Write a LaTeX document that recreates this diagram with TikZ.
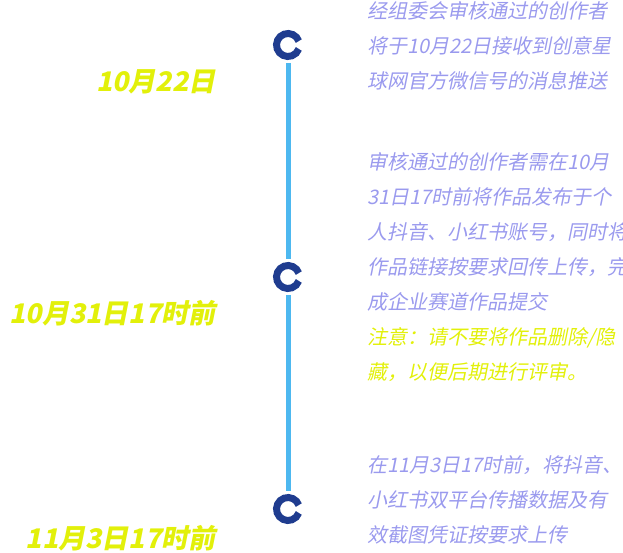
\documentclass[tikz,border=0pt]{standalone}
\usepackage{fontspec}
\newfontfamily\cjk{Noto Sans CJK SC}[FakeSlant=0.2]
\usetikzlibrary{positioning,calc}
\definecolor{ringblue}{HTML}{1F3C8F}
\definecolor{lineblue}{HTML}{4DB8F0}
\definecolor{datey}{HTML}{E2F00A}
\definecolor{desc}{HTML}{9A9AEE}
\tikzset{
  ring/.style={ringblue, line width=7pt},
  datetext/.style={anchor=east, text=datey, font=\cjk\bfseries\fontsize{27}{30}\selectfont, inner sep=0pt},
  desctext/.style={anchor=north west, text=desc, align=left, inner sep=0pt,
    font=\cjk\fontsize{20}{35}\selectfont},
}
\begin{document}
\begin{tikzpicture}[x=1pt,y=-1pt]
        \useasboundingbox (0,0) rectangle (623,553);
        % timeline
        \coordinate (i1) at (288,45);
        \coordinate (i2) at (288,277);
        \coordinate (i3) at (288,509);
        \draw[lineblue, line width=5pt] ($(i1)+(0,18)$) -- ($(i2)+(0,-18)$);
        \draw[lineblue, line width=5pt] ($(i2)+(0,18)$) -- ($(i3)+(0,-18)$);
        \foreach \i in {i1,i2,i3}
            \draw[ring] (\i) ++(-20:11.5) arc [start angle=-20, end angle=-340, radius=11.5];
        % dates
        \node[datetext] (d1) at (216,82) {10月22日};
        \node[datetext] (d2) at (216,313) {10月31日17时前};
        \node[datetext] (d3) at (216,538) {11月3日17时前};
        % descriptions
        \node[desctext] (t1) at (367,1) {经组委会审核通过的创作者\\将于10月22日接收到创意星\\球网官方微信号的消息推送};
        \node[desctext] (t2) at (367,152) {审核通过的创作者需在10月\\31日17时前将作品发布于个\\人抖音、小红书账号，同时将\\作品链接按要求回传上传，完\\成企业赛道作品提交\\\textcolor{datey}{注意：请不要将作品删除/隐}\\\textcolor{datey}{藏，以便后期进行评审。}};
        \node[desctext] (t3) at (367,455) {在11月3日17时前，将抖音、\\小红书双平台传播数据及有\\效截图凭证按要求上传};
\end{tikzpicture}
\end{document}
